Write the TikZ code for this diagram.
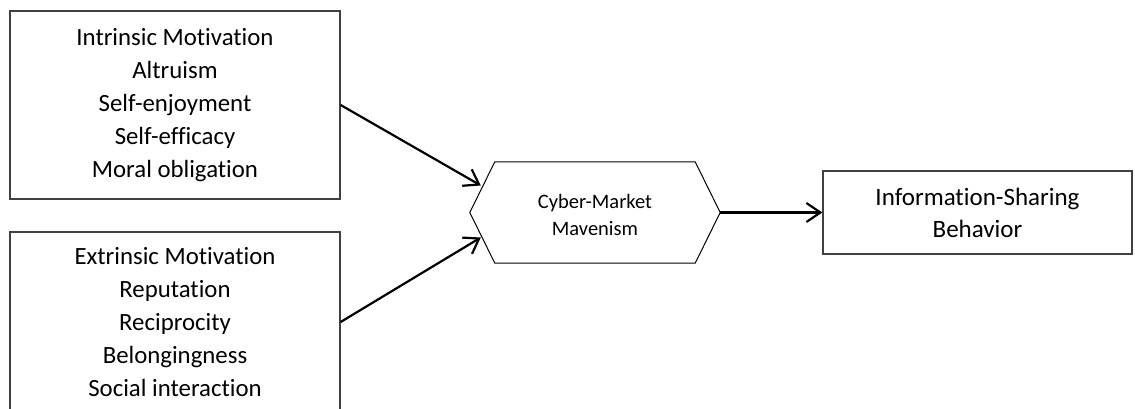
\documentclass[tikz,border=0pt]{standalone}
\usepackage{fontspec}
\setmainfont{Carlito}[Ligatures=NoCommon]
\usetikzlibrary{arrows.meta}
\usetikzlibrary{calc}

\begin{document}
\begin{tikzpicture}[x=1pt,y=1pt,
  factor/.style={draw=black!75,line width=1.3pt,minimum width=330pt,inner sep=0pt,
    align=center,font=\fontsize{24.8}{33}\selectfont},
  link/.style={-{Straight Barb[length=14pt,width=19pt]},line width=2.2pt}]
\useasboundingbox (0,0) rectangle (1135,409);
\clip (0,0) rectangle (1135,409);
% motivation boxes
\node[factor,minimum height=188pt] (im) at (175,304) {Intrinsic Motivation\\Altruism\\Self-enjoyment\\Self-efficacy\\Moral obligation};
\node[factor,minimum height=180pt] (em) at (175,87) {Extrinsic Motivation\\Reputation\\Reciprocity\\Belongingness\\Social interaction};
% mavenism hexagon
\node[minimum width=250pt,minimum height=101pt,inner sep=0pt,align=center,
  font=\fontsize{20.5}{27}\selectfont] (cmm) at (595,194) {Cyber-Market\\Mavenism};
\draw[line width=1pt] ([yshift=2.5pt]cmm.west) -- ([xshift=25pt,yshift=2.5pt]cmm.north west) -- ([xshift=-25pt,yshift=2.5pt]cmm.north east)
  -- ([yshift=2.5pt]cmm.east) -- ([xshift=-25pt,yshift=2.5pt]cmm.south east) -- ([xshift=25pt,yshift=2.5pt]cmm.south west) -- cycle;
\node[draw=black!75,line width=1.3pt,minimum width=309pt,minimum height=83pt,inner sep=0pt,
  align=center,font=\fontsize{25}{32}\selectfont] (isb) at (977.5,196.5) {Information-Sharing\\Behavior};
% arrows
\coordinate (in1) at ($(cmm.west)+(11,29.5)$);
\coordinate (in2) at ($(cmm.west)+(11,-22.5)$);
\draw[link] (im.east) -- (in1);
\draw[link] (em.east) -- (in2);
\draw[link] ([yshift=2.5pt]cmm.east) -- (isb.west);
\end{tikzpicture}
\end{document}
